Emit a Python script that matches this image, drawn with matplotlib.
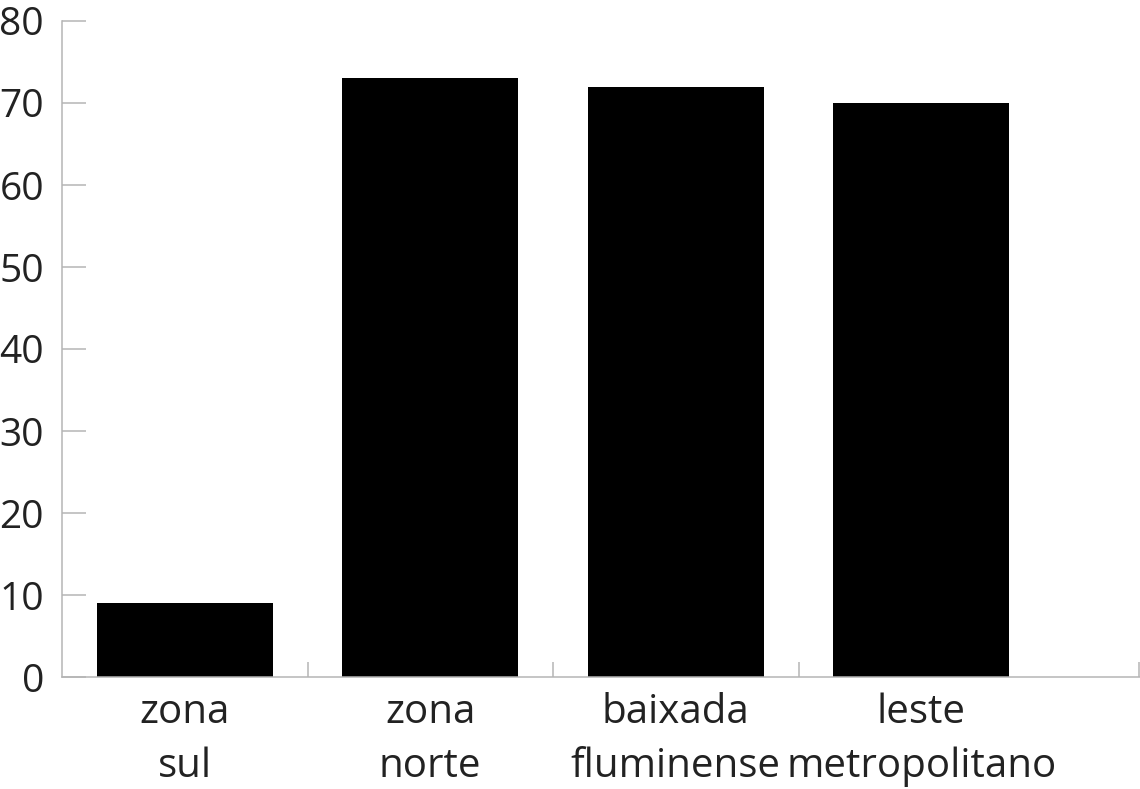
import matplotlib
matplotlib.use("Agg")
import matplotlib.pyplot as plt
import numpy as np

categories = ["zona\nsul", "zona\nnorte", "baixada\nfluminense", "leste\nmetropolitano"]
values = [9, 73, 72, 70]
yticks = [0, 10, 20, 30, 40, 50, 60, 70, 80]

plt.rcParams['font.family'] = ['Open Sans', 'DejaVu Sans']

fig = plt.figure(figsize=(11.4, 7.89), dpi=100)
ax = fig.add_axes([62/1140, 112/789, 1 - 62/1140, (677-21)/789])

x = np.arange(len(categories))
ax.bar(x, values, width=0.717, color='black')

ax.set_xlim(-0.5, -0.5 + 1078/245.5)
ax.set_ylim(0, 80)

ax.set_yticks(yticks)
ax.set_yticklabels([str(v) for v in yticks])
ax.tick_params(axis='y', direction='in', length=17, width=1.1, color='#b5b5b5',
               labelsize=28, labelcolor='#222222', pad=13)

ax.set_xticks(x)
ax.set_xticklabels(categories, fontsize=29, color='#222222', linespacing=1.45)
ax.tick_params(axis='x', which='major', length=0, pad=11)
ax.set_xticks([0.5, 1.5, 2.5, -0.5 + 1077/245.5], minor=True)
ax.tick_params(axis='x', which='minor', direction='in', length=11, width=1.1, color='#b5b5b5')

for s in ['top', 'right']:
    ax.spines[s].set_visible(False)
for s in ['left', 'bottom']:
    ax.spines[s].set_color('#b5b5b5')
    ax.spines[s].set_linewidth(1.1)

fig.savefig("out.png", dpi=100)
